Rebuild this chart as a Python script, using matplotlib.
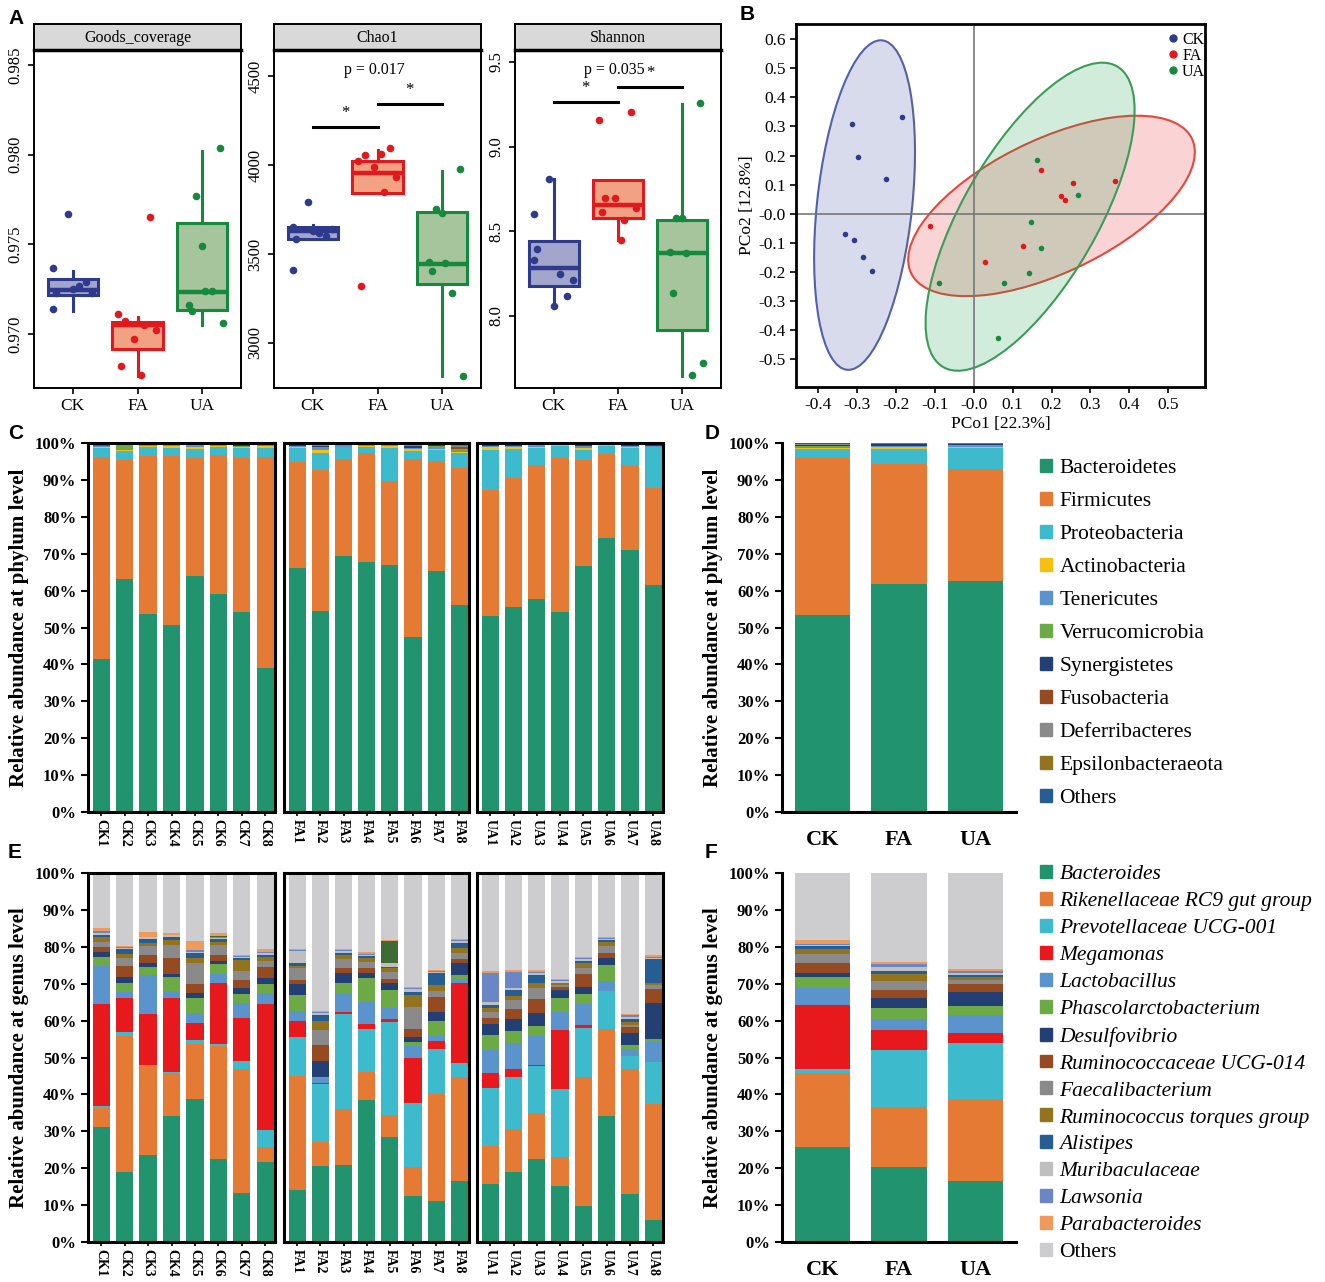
import numpy as np
import matplotlib
matplotlib.use("Agg")
import matplotlib.pyplot as plt
from matplotlib.patches import Ellipse, Patch
from matplotlib.lines import Line2D

plt.rcParams["font.family"] = ["Liberation Serif", "DejaVu Serif"]
plt.rcParams["axes.unicode_minus"] = False

W, H = 1325, 1282

# ---------------- data: panel A (alpha diversity) ----------------
groups = ["CK", "FA", "UA"]
grp_colors = ["#2E3A8C", "#E0191E", "#17893F"]
grp_fills = ["#A2A6CC", "#F2A283", "#A6C59D"]

goods_ck = [0.9767, 0.9737, 0.9723, 0.9714, 0.9723, 0.9727, 0.9729, 0.9725]
goods_fa = [0.9765, 0.9711, 0.9707, 0.9697, 0.9702, 0.9705, 0.9682, 0.9677]
goods_ua = [0.9804, 0.9777, 0.9749, 0.9716, 0.9713, 0.9724, 0.9706, 0.9724]
# whislo, q1, median, q3, whishi
goods_box = [[0.9713, 0.97215, 0.97245, 0.97305, 0.97353],
             [0.96767, 0.96919, 0.97053, 0.97068, 0.97096],
             [0.97053, 0.97133, 0.97235, 0.97617, 0.98020]]

chao_ck = [3790, 3410, 3583, 3654, 3640, 3620, 3600, 3630]
chao_fa = [4097, 4024, 4056, 3990, 3931, 3850, 3320, 4060]
chao_ua = [3980, 3753, 3729, 3457, 3406, 3283, 2815, 3450]
chao_box = [[3583, 3583, 3631, 3650, 3660],
            [3841, 3841, 3957, 4021, 4084],
            [2816, 3331, 3444, 3736, 3968]]

shannon_ck = [8.809, 8.603, 8.398, 8.331, 8.213, 8.248, 8.118, 8.059]
shannon_fa = [9.203, 9.158, 8.699, 8.699, 8.636, 8.567, 8.612, 8.449]
shannon_ua = [9.260, 8.577, 8.577, 8.380, 8.138, 7.651, 7.720, 8.370]
shannon_box = [[8.059, 8.177, 8.282, 8.445, 8.809],
               [8.449, 8.580, 8.656, 8.803, 8.803],
               [7.648, 7.917, 8.370, 8.567, 9.252]]

chao_sig = [4215, 4343]
shannon_sig = [9.266, 9.350]
chao_p = "p = 0.017"
shannon_p = "p = 0.035"

# ---------------- data: panel B (PCoA) ----------------
pc1_ck = [-0.312, -0.296, -0.183, -0.224, -0.330, -0.308, -0.285, -0.261]
pc2_ck = [0.308, 0.196, 0.333, 0.118, -0.070, -0.090, -0.147, -0.195]
pc1_fa = [-0.111, 0.029, 0.127, 0.173, 0.235, 0.254, 0.363, 0.225]
pc2_fa = [-0.043, -0.167, -0.111, 0.150, 0.047, 0.106, 0.112, 0.061]
pc1_ua = [-0.088, 0.079, 0.063, 0.147, 0.163, 0.173, 0.142, 0.267]
pc2_ua = [-0.238, -0.238, -0.428, -0.029, 0.184, -0.118, -0.205, 0.064]
ell_center = [(-0.28, 0.03), (0.20, 0.027), (0.145, -0.01)]
ell_cov = [[[0.01677, 0.0235], [0.0235, 0.3204]],
           [[0.1354, 0.068], [0.068, 0.0961]],
           [[0.0720, 0.098], [0.098, 0.280]]]

# ---------------- data: panels C/D (phylum) ----------------
samples = ([f"CK{i}" for i in range(1, 9)] + [f"FA{i}" for i in range(1, 9)]
           + [f"UA{i}" for i in range(1, 9)])
phyla = ["Bacteroidetes", "Firmicutes", "Proteobacteria", "Actinobacteria",
         "Tenericutes", "Verrucomicrobia", "Synergistetes", "Fusobacteria",
         "Deferribacteres", "Epsilonbacteraeota", "Others"]
phylum_colors = ["#22936F", "#E47A33", "#3DBACB", "#F5C010", "#5B94CD",
                 "#6BAA45", "#233F74", "#964A22", "#8A8A8A", "#94731E", "#265E94"]
bacteroidetes = [41.5, 63.1, 53.7, 50.7, 63.9, 59.2, 54.2, 39.0,
                 66.0, 54.5, 69.5, 67.7, 66.9, 47.5, 65.4, 56.1,
                 53.1, 55.5, 57.8, 54.3, 66.7, 74.3, 71.0, 61.4]
firmicutes = [54.6, 32.3, 42.7, 45.9, 31.9, 37.5, 41.7, 57.2,
              28.8, 38.3, 26.2, 29.5, 22.9, 48.2, 29.7, 37.2,
              34.1, 35.1, 36.2, 41.5, 28.7, 22.7, 22.9, 26.3]
proteobacteria = [2.5, 2.4, 2.5, 2.0, 2.5, 2.2, 2.7, 2.5,
                  3.9, 4.5, 3.1, 1.7, 8.8, 2.1, 3.1, 4.0,
                  11.0, 7.8, 4.6, 3.4, 2.8, 2.3, 4.7, 11.1]
actinobacteria = [0.2, 0.4, 0.3, 0.6, 0.5, 0.3, 0.2, 0.6,
                  0.2, 0.7, 0.2, 0.2, 0.5, 0.6, 0.3, 0.2,
                  0.6, 0.4, 0.3, 0.3, 0.5, 0.2, 0.4, 0.2]
tenericutes = [0.3, 0.3, 0.2, 0.2, 0.3, 0.2, 0.2, 0.2,
               0.3, 0.9, 0.2, 0.2, 0.2, 0.2, 0.3, 0.3,
               0.3, 0.3, 0.4, 0.2, 0.4, 0.1, 0.2, 0.1]
verrucomicrobia = [0.1, 0.6, 0.1, 0.1, 0.5, 0.1, 0.1, 0.1,
                   0.1, 0.1, 0.2, 0.1, 0.1, 0.1, 0.4, 0.5,
                   0.1, 0.1, 0.1, 0.1, 0.1, 0.1, 0.1, 0.1]
synergistetes = [0.1, 0.2, 0.1, 0.1, 0.2, 0.1, 0.3, 0.1,
                 0.2, 0.2, 0.2, 0.2, 0.2, 0.5, 0.3, 0.2,
                 0.2, 0.2, 0.3, 0.2, 0.4, 0.2, 0.3, 0.4]
fusobacteria = [0.4, 0.0, 0.0, 0.0, 0.0, 0.0, 0.2, 0.0,
                0.0, 0.0, 0.0, 0.0, 0.0, 0.0, 0.0, 0.4,
                0.0, 0.0, 0.0, 0.0, 0.0, 0.0, 0.0, 0.0]
deferribacteres = [0.2, 0.2, 0.2, 0.2, 0.1, 0.2, 0.2, 0.1,
                   0.2, 0.2, 0.2, 0.2, 0.2, 0.2, 0.3, 0.3,
                   0.2, 0.2, 0.2, 0.1, 0.2, 0.1, 0.1, 0.1]
epsilonbacteraeota = [0.1, 0.1, 0.1, 0.0, 0.1, 0.1, 0.1, 0.1,
                      0.1, 0.1, 0.1, 0.1, 0.1, 0.1, 0.1, 0.6,
                      0.1, 0.1, 0.1, 0.1, 0.1, 0.1, 0.1, 0.1]
phylum_others = [0.2] * 24
phylum_series = [bacteroidetes, firmicutes, proteobacteria, actinobacteria,
                 tenericutes, verrucomicrobia, synergistetes, fusobacteria,
                 deferribacteres, epsilonbacteraeota, phylum_others]
# group means (CK, FA, UA)
phylum_mean = [[53.3, 61.8, 62.6], [42.7, 32.6, 30.4], [2.3, 4.0, 5.7],
               [0.4, 0.4, 0.3], [0.3, 0.3, 0.25], [0.2, 0.2, 0.1],
               [0.2, 0.3, 0.3], [0.1, 0.05, 0.0], [0.2, 0.2, 0.15],
               [0.1, 0.2, 0.1], [0.2, 0.2, 0.2]]

# ---------------- data: panels E/F (genus) ----------------
genera = ["Bacteroides", "Rikenellaceae RC9 gut group", "Prevotellaceae UCG-001",
          "Megamonas", "Lactobacillus", "Phascolarctobacterium", "Desulfovibrio",
          "Ruminococcaceae UCG-014", "Faecalibacterium", "Ruminococcus torques group",
          "Alistipes", "Muribaculaceae", "Lawsonia", "unlisted", "Parabacteroides",
          "Others"]
genus_colors = ["#22936F", "#E47A33", "#3DBACB", "#E8191C", "#5B94CD", "#6BAA45",
                "#233F74", "#964A22", "#8A8A8A", "#94731E", "#265E94", "#BFBFBF",
                "#6A86C6", "#3E6A33", "#EE9A5D", "#CDCDCF"]
bacteroides = [31.3, 19.0, 23.5, 34.1, 38.8, 22.5, 13.2, 21.8,
               14.1, 20.7, 20.9, 38.5, 28.4, 12.6, 11.2, 16.5,
               15.6, 19.1, 22.5, 15.3, 9.8, 34.1, 13.0, 6.0]
rikenellaceae = [5.1, 36.8, 24.3, 11.6, 14.9, 30.7, 33.8, 3.9,
                 31.0, 6.5, 15.1, 7.5, 5.9, 7.6, 28.8, 28.1,
                 10.5, 11.4, 12.4, 7.8, 34.8, 23.5, 33.8, 31.3]
prevotellaceae = [0.5, 1.2, 0.3, 0.4, 1.0, 0.5, 2.0, 4.7,
                  10.5, 15.5, 25.8, 11.7, 25.4, 17.6, 12.4, 4.0,
                  15.7, 14.3, 12.9, 18.3, 13.3, 10.4, 3.6, 11.6]
megamonas = [27.6, 9.1, 13.7, 20.0, 4.7, 16.4, 11.7, 34.1,
             4.2, 0.3, 0.5, 1.4, 0.6, 12.2, 2.1, 21.5,
             3.9, 2.0, 0.3, 16.1, 0.8, 0.1, 0.0, 0.0]
lactobacillus = [10.3, 1.7, 10.6, 1.8, 2.6, 2.4, 4.2, 3.1,
                 2.8, 1.4, 4.8, 6.0, 3.2, 3.2, 1.4, 1.1,
                 6.3, 7.0, 7.8, 4.7, 5.8, 2.6, 1.8, 5.4]
phascolarctobacterium = [2.5, 2.3, 2.0, 4.0, 4.1, 2.9, 2.3, 2.4,
                         4.3, 0.4, 3.1, 6.5, 4.7, 0.9, 4.1, 1.2,
                         4.1, 3.5, 2.7, 4.0, 2.6, 4.4, 1.2, 0.6]
desulfovibrio = [1.4, 1.8, 1.3, 0.7, 1.3, 0.8, 1.5, 1.5,
                 3.0, 4.3, 2.6, 1.2, 2.1, 1.5, 2.3, 3.1,
                 3.0, 3.2, 3.4, 2.1, 2.1, 2.0, 3.3, 10.0]
ruminococcaceae = [1.3, 2.9, 2.0, 4.5, 2.5, 1.6, 2.3, 3.1,
                   1.1, 4.2, 1.5, 1.4, 0.9, 2.1, 4.0, 1.3,
                   1.6, 2.7, 3.9, 0.9, 3.4, 1.1, 1.5, 3.6]
faecalibacterium = [1.2, 2.3, 2.5, 3.4, 5.8, 2.6, 2.5, 1.6,
                    3.3, 4.2, 2.5, 1.8, 2.0, 6.1, 1.8, 1.4,
                    1.5, 2.4, 2.9, 0.5, 1.6, 2.0, 0.5, 1.2]
r_torques = [1.4, 0.9, 0.9, 1.3, 1.2, 0.9, 2.9, 1.0,
             0.5, 2.4, 0.9, 1.1, 1.0, 3.1, 1.6, 1.6,
             1.3, 1.2, 1.3, 0.4, 1.5, 1.2, 0.8, 0.4]
alistipes = [0.7, 1.3, 0.9, 0.9, 1.3, 0.7, 0.7, 0.6,
             0.7, 1.5, 0.7, 0.3, 0.4, 0.9, 3.1, 1.1,
             0.7, 1.5, 2.3, 0.2, 0.5, 0.4, 0.8, 6.5]
muribaculaceae = [0.5, 0.5, 0.6, 0.4, 0.5, 0.3, 0.2, 0.4,
                  3.4, 0.7, 0.5, 0.3, 0.9, 0.7, 0.4, 0.7,
                  0.9, 0.6, 0.4, 0.3, 0.4, 0.4, 0.8, 0.5]
lawsonia = [0.6, 0.2, 0.1, 0.2, 0.4, 0.4, 0.2, 0.3,
            0.1, 0.3, 0.2, 0.3, 0.0, 0.2, 0.2, 0.2,
            7.7, 4.2, 0.4, 0.3, 0.3, 0.2, 0.3, 0.2]
unlisted = [0.0, 0.0, 0.0, 0.0, 0.0, 0.3, 0.0, 0.0,
            0.0, 0.0, 0.0, 0.0, 6.0, 0.0, 0.0, 0.0,
            0.0, 0.0, 0.0, 0.0, 0.0, 0.0, 0.0, 0.0]
parabacteroides = [0.6, 0.3, 1.4, 0.5, 2.4, 0.8, 0.3, 0.8,
                   0.4, 0.3, 0.3, 0.5, 0.3, 0.5, 0.3, 0.4,
                   0.6, 0.6, 0.5, 0.3, 0.4, 0.3, 0.5, 0.4]
genus_others = [15.0, 19.7, 15.9, 16.2, 18.5, 16.4, 22.2, 20.7,
                20.6, 37.3, 20.7, 21.5, 18.2, 30.7, 26.3, 17.8,
                26.6, 26.3, 26.3, 28.8, 22.7, 17.3, 38.0, 22.3]
genus_series = [bacteroides, rikenellaceae, prevotellaceae, megamonas,
                lactobacillus, phascolarctobacterium, desulfovibrio,
                ruminococcaceae, faecalibacterium, r_torques, alistipes,
                muribaculaceae, lawsonia, unlisted, parabacteroides, genus_others]
genus_mean = [[25.7, 20.4, 16.5], [20.0, 16.3, 22.2], [1.1, 15.3, 15.1],
              [17.4, 5.5, 2.9], [4.5, 2.8, 4.8], [3.0, 3.2, 2.5],
              [1.1, 2.5, 3.8], [2.7, 2.3, 2.0], [2.5, 2.5, 1.2],
              [1.5, 1.7, 0.7], [0.7, 1.0, 0.7], [0.4, 1.1, 0.6],
              [0.2, 0.7, 0.5], [0.0, 0.0, 0.0], [1.0, 0.6, 0.6],
              [18.2, 24.1, 25.9]]


def rect(x0, y0, x1, y1):
    return [x0 / W, 1 - y1 / H, (x1 - x0) / W, (y1 - y0) / H]


fig = plt.figure(figsize=(W / 100, H / 100), dpi=100)

# ---------------- panel A ----------------
facets = [
    ("Goods_coverage", [goods_ck, goods_fa, goods_ua], goods_box,
     (0.96699, 0.98584), [0.970, 0.975, 0.980, 0.985], "{:.3f}", None, None, (34, 241)),
    ("Chao1", [chao_ck, chao_fa, chao_ua], chao_box,
     (2747, 4646), [3000, 3500, 4000, 4500], "{:.0f}", chao_sig, chao_p, (274, 481)),
    ("Shannon", [shannon_ck, shannon_fa, shannon_ua], shannon_box,
     (7.575, 9.571), [8.0, 8.5, 9.0, 9.5], "{:.1f}", shannon_sig, shannon_p, (515, 721)),
]
jitters = [[-0.07, -0.3, -0.26, -0.3, 0.3, 0.1, 0.2, 0.0],
           [0.2, -0.3, -0.2, -0.05, 0.28, 0.1, -0.25, 0.05],
           [0.28, -0.1, 0.0, -0.2, -0.15, 0.15, 0.32, 0.05]]

for title, pts, boxes, ylim, yticks, fmt, sig, ptxt, (x0, x1) in facets:
    ax = fig.add_axes(rect(x0, 50, x1, 388))
    for i in range(3):
        wl, q1, med, q3, wh = boxes[i]
        ax.bxp([dict(whislo=wl, q1=q1, med=med, q3=q3, whishi=wh, fliers=[])],
               positions=[i + 1], widths=0.78, patch_artist=True,
               showfliers=False, showcaps=False,
               boxprops=dict(facecolor=grp_fills[i], edgecolor=grp_colors[i], linewidth=2.2),
               medianprops=dict(color=grp_colors[i], linewidth=3.2),
               whiskerprops=dict(color=grp_colors[i], linewidth=2.2))
        ax.scatter(np.array(jitters[i]) + i + 1, pts[i], s=30,
                   color=grp_colors[i], zorder=5, linewidths=0)
    ax.set_xlim(0.4, 3.6)
    ax.set_ylim(*ylim)
    ax.set_xticks([1, 2, 3])
    ax.set_xticklabels(groups, fontsize=12.5)
    ax.set_yticks(yticks)
    ax.set_yticklabels([fmt.format(v) for v in yticks], fontsize=12,
                       rotation=90, va="center")
    ax.tick_params(length=4, width=1.2)
    for s in ax.spines.values():
        s.set_linewidth(1.4)
    if sig is not None:
        ax.plot([1, 2], [sig[0], sig[0]], color="black", lw=2.2)
        ax.plot([2, 3], [sig[1], sig[1]], color="black", lw=2.2)
        dy = (ylim[1] - ylim[0]) * 0.018
        ax.text(1.5, sig[0] + dy, "*", ha="center", va="bottom", fontsize=12)
        ax.text(2.5, sig[1] + dy, "*", ha="center", va="bottom", fontsize=12)
        ax.text(1.95, ylim[1] - (ylim[1] - ylim[0]) * 0.06, ptxt,
                ha="center", va="center", fontsize=11.5)
    sax = fig.add_axes(rect(x0, 24, x1, 50))
    sax.set_facecolor("#D9D9D9")
    sax.set_xticks([])
    sax.set_yticks([])
    for s in sax.spines.values():
        s.set_linewidth(1.4)
    sax.spines["bottom"].set_linewidth(2.5)
    sax.text(0.5, 0.48, title, ha="center", va="center", fontsize=11.5,
             transform=sax.transAxes)

# ---------------- panel B ----------------
axb = fig.add_axes(rect(796, 24, 1205, 387))
pcs = [(pc1_ck, pc2_ck), (pc1_fa, pc2_fa), (pc1_ua, pc2_ua)]
ell_edges = ["#5660A8", "#E4473C", "#3B9C58"]
ell_faces = ["#3B4BA0", "#E8282C", "#21A050"]
for i in range(3):
    vals, vecs = np.linalg.eigh(np.array(ell_cov[i]))
    ang = np.degrees(np.arctan2(vecs[1, 1], vecs[0, 1]))
    e = Ellipse(ell_center[i], 2 * np.sqrt(vals[1]), 2 * np.sqrt(vals[0]),
                angle=ang, facecolor=ell_faces[i], alpha=0.2, edgecolor="none")
    axb.add_patch(e)
    e2 = Ellipse(ell_center[i], 2 * np.sqrt(vals[1]), 2 * np.sqrt(vals[0]),
                 angle=ang, facecolor="none", edgecolor=ell_edges[i], lw=1.5)
    axb.add_patch(e2)
axb.axhline(0, color="#777777", lw=1.2, zorder=1)
axb.axvline(0, color="#777777", lw=1.2, zorder=1)
for i in range(3):
    axb.scatter(pcs[i][0], pcs[i][1], s=16, color=grp_colors[i], zorder=5,
                linewidths=0)
axb.set_xlim(-0.456, 0.594)
axb.set_ylim(-0.595, 0.652)
bx = np.round(np.arange(-0.4, 0.51, 0.1), 1)
by = np.round(np.arange(-0.5, 0.61, 0.1), 1)
axb.set_xticks(bx)
axb.set_xticklabels([f"{v:.1f}" for v in bx], fontsize=12.5)
axb.set_yticks(by)
axb.set_yticklabels([f"{v:.1f}" for v in by], fontsize=12.5)
axb.tick_params(length=4, width=1.2)
for s in axb.spines.values():
    s.set_linewidth(2)
axb.set_xlabel("PCo1 [22.3%]", fontsize=12.5, labelpad=2)
axb.set_ylabel("PCo2 [12.8%]", fontsize=12.5, labelpad=2)
handles_b = [Line2D([], [], marker="o", ls="none", color=grp_colors[i],
                    markersize=5) for i in range(3)]
axb.legend(handles_b, groups, loc="upper right", frameon=False, fontsize=11.5,
           handletextpad=0.0, labelspacing=0.0, borderaxespad=0.1,
           handlelength=1.2, bbox_to_anchor=(1.02, 1.0))


# ---------------- panels C/E (per sample) ----------------
def sample_boxes(series, colors, y0, y1, ylabel):
    boxes_x = [(88, 275), (284, 469), (477, 663)]
    for g, (bx0, bx1) in enumerate(boxes_x):
        ax = fig.add_axes(rect(bx0, y0, bx1, y1))
        x = np.arange(8)
        bottom = np.zeros(8)
        for vals, c in zip(series, colors):
            v = np.array(vals[g * 8:(g + 1) * 8])
            ax.bar(x, v, 0.74, bottom=bottom, color=c, edgecolor="none")
            bottom += v
        ax.set_xlim(-0.57, 7.42)
        ax.set_ylim(0, 100)
        ax.set_xticks(x)
        ax.set_xticklabels(samples[g * 8:(g + 1) * 8], rotation=270,
                           fontsize=10, fontweight="bold")
        ax.tick_params(axis="x", length=3, width=1.2, pad=2)
        if g == 0:
            ax.set_yticks(range(0, 101, 10))
            ax.set_yticklabels([f"{v}%" for v in range(0, 101, 10)],
                               fontsize=12, fontweight="bold")
            ax.tick_params(axis="y", length=5, width=1.5)
            ax.set_ylabel(ylabel, fontsize=15, fontweight="bold", labelpad=4)
        else:
            ax.set_yticks([])
        for s in ax.spines.values():
            s.set_linewidth(2.2)


def mean_box(series, colors, y0, y1, ylabel):
    ax = fig.add_axes(rect(782, y0, 1016, y1))
    x = np.arange(3)
    bottom = np.zeros(3)
    for vals, c in zip(series, colors):
        v = np.array(vals)
        ax.bar(x, v, 0.72, bottom=bottom, color=c, edgecolor="none")
        bottom += v
    ax.set_xlim(-0.53, 2.53)
    ax.set_ylim(0, 100)
    ax.set_xticks(x)
    ax.set_xticklabels(groups, fontsize=16, fontweight="bold")
    ax.tick_params(axis="x", length=0, pad=13)
    ax.set_yticks(range(0, 101, 10))
    ax.set_yticklabels([f"{v}%" for v in range(0, 101, 10)],
                       fontsize=12, fontweight="bold")
    ax.tick_params(axis="y", length=5, width=1.5)
    ax.set_ylabel(ylabel, fontsize=15, fontweight="bold", labelpad=4)
    ax.spines["top"].set_visible(False)
    ax.spines["right"].set_visible(False)
    ax.spines["left"].set_linewidth(2.2)
    ax.spines["bottom"].set_linewidth(2.2)


sample_boxes(phylum_series, phylum_colors, 443, 812,
             "Relative abundance at phylum level")
mean_box(phylum_mean, phylum_colors, 443, 812,
         "Relative abundance at phylum level")
sample_boxes(genus_series, genus_colors, 873, 1242,
             "Relative abundance at genus level")
mean_box(genus_mean, genus_colors, 873, 1242,
         "Relative abundance at genus level")

# legends
h_phy = [Patch(color=c) for c in phylum_colors]
fig.legend(h_phy, phyla, loc="upper left", bbox_to_anchor=(1040 / W, 1 - 459 / H),
           frameon=False, fontsize=15.5, handlelength=0.55, handleheight=0.55,
           handletextpad=0.35, labelspacing=0.645, borderaxespad=0, borderpad=0)
keep = [i for i, g in enumerate(genera) if g != "unlisted"]
h_gen = [Patch(color=genus_colors[i]) for i in keep]
leg = fig.legend(h_gen, [genera[i] for i in keep], loc="upper left",
                 bbox_to_anchor=(1040 / W, 1 - 865 / H),
                 frameon=False, fontsize=15.5, handlelength=0.55, handleheight=0.55,
                 handletextpad=0.35, labelspacing=0.365, borderaxespad=0, borderpad=0)
for t in leg.get_texts()[:-1]:
    t.set_fontstyle("italic")

# panel letters
for lab, (px, py) in zip("ABCDEF", [(8, 18), (740, 15), (8, 433), (705, 433),
                                    (8, 853), (705, 853)]):
    fig.text(px / W, 1 - py / H, lab, fontsize=15, fontweight="bold",
             family="Liberation Sans", ha="left", va="center")

fig.savefig("out.png", dpi=100)
